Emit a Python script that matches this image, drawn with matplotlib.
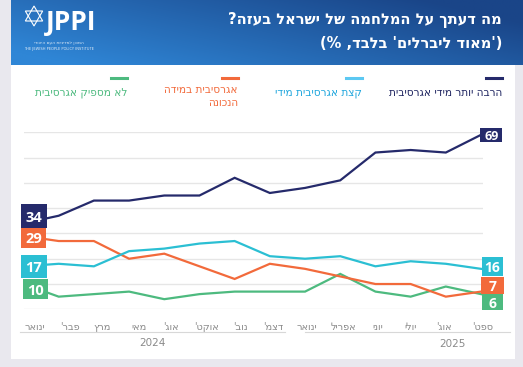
import matplotlib
matplotlib.use('Agg')
import matplotlib.pyplot as plt
import matplotlib.transforms as mtransforms
from matplotlib.patches import Rectangle, Polygon
from matplotlib.lines import Line2D
import numpy as np

# data
months = ['ינואר', "פבר'", 'מרץ', 'מאי', "אוג'", "אוקט'", "נוב'", "דצמ'",
          'ינואר', 'אפריל', 'יוני', 'יולי', "אוג'", "ספט'"]
much_too_aggressive = [34, 37, 43, 43, 45, 45, 52, 46, 48, 51, 62, 63, 62, 69]
right_amount = [29, 27, 27, 20, 22, 17, 12, 18, 16, 13, 10, 10, 5, 7]
bit_too_aggressive = [17, 18, 17, 23, 24, 26, 27, 21, 20, 21, 17, 19, 18, 16]
not_aggressive_enough = [10, 5, 6, 7, 4, 6, 7, 7, 7, 14, 7, 5, 9, 6]

NAVY = '#252a6b'
ORANGE = '#f26a3b'
CYAN = '#2bbfd3'
GREEN = '#4dba7f'

W, H = 523, 367


def rtl(s):
    # matplotlib has no bidi support: give it the visual order
    mirror = {'(': ')', ')': '('}
    return ''.join(mirror.get(c, c) for c in reversed(s))


def fx(x):
    return x / W


def fy(y):
    return 1 - y / H


HEB = ['DejaVu Sans']

fig = plt.figure(figsize=(W / 100, H / 100), dpi=100)
fig.patch.set_facecolor('#e9e8ee')

# white card
fig.add_artist(Rectangle((fx(11), fy(359)), (515 - 11) / W, (359 - 65) / H,
                         transform=fig.transFigure, fc='white', ec='none', zorder=-1))

# header banner with gradient (lighter bottom left, darker top right)
axb = fig.add_axes([fx(11), fy(65), (W - 11) / W, 65 / H])
gx, gy = np.meshgrid(np.linspace(0, 1, 300), np.linspace(0, 1, 60))
t = np.clip(0.8 * gx + 0.45 * gy - 0.1, 0, 1)[..., None]
light = np.array([0x2f, 0x86, 0xd6]) / 255
dark = np.array([0x1a, 0x45, 0x88]) / 255
axb.imshow(light * (1 - t) + dark * t, aspect='auto', origin='lower', extent=[0, 1, 0, 1])
axb.set_axis_off()

fig.text(fx(502), fy(20), rtl('מה דעתך על המלחמה של ישראל בעזה?'), ha='right', va='center',
         color='white', fontsize=10.5, fontweight='bold', family=HEB)
fig.text(fx(502), fy(43), rtl("('מאוד ליברלים' בלבד, %)"), ha='right', va='center',
         color='white', fontsize=10.5, fontweight='bold', family=HEB)

# logo
cx, cy, r = 34, 16, 10
for sgn in (1, -1):
    pts = [(fx(cx + r * np.sin(a)), fy(cy - sgn * r * np.cos(a)))
           for a in np.radians([0, 120, 240])]
    fig.add_artist(Polygon(pts, closed=True, fill=False, ec='white', lw=0.8,
                           transform=fig.transFigure))
fig.text(fx(46), fy(23), 'JPPI', ha='left', va='center', color='white',
         fontsize=19, fontweight='bold', family=['Open Sans', 'DejaVu Sans'])
fig.text(fx(59), fy(43), rtl('המכון למדיניות העם היהודי'), ha='center', va='center',
         color='white', fontsize=3.2, family=HEB, alpha=0.85)
fig.text(fx(59), fy(49), 'THE JEWISH PEOPLE POLICY INSTITUTE', ha='center', va='center',
         color='white', fontsize=2.6, family=HEB, alpha=0.85)

# legend
legend = [
    ('הרבה יותר מידי אגרסיבית', NAVY, '#1e2460', 502),
    ('קצת אגרסיבית מידי', '#5cc8f2', '#1fa6dd', 362),
    ('אגרסיבית במידה\nהנכונה', ORANGE, ORANGE, 238),
    ('לא מספיק אגרסיבית', GREEN, GREEN, 127),
]
for label, lc, tc, xr in legend:
    fig.add_artist(Line2D([fx(xr - 16), fx(xr)], [fy(78), fy(78)], color=lc, lw=2.2,
                          transform=fig.transFigure))
    lines = label.split('\n')
    for k, ln in enumerate(lines):
        yy = 93 if len(lines) == 1 else 90 + 13 * k
        fig.text(fx(xr), fy(yy), rtl(ln), ha='right', va='center', color=tc,
                 fontsize=7.6, family=HEB)

# main plot
ax = fig.add_axes([fx(23.5), fy(309.3), (483 - 23.5) / W, (309.3 - 132.3) / H])
ax.set_facecolor('none')
x = np.arange(len(months))
for vals, c in [(not_aggressive_enough, GREEN), (right_amount, ORANGE),
                (bit_too_aggressive, CYAN), (much_too_aggressive, NAVY)]:
    ax.plot(x, vals, color=c, lw=1.6, solid_joinstyle='miter', zorder=3)

ax.set_xlim(0, len(months) - 1)
ax.set_ylim(0, 70)
ax.set_yticks(range(0, 71, 10))
ax.yaxis.grid(True, color='#e6e6e6', lw=1)
ax.set_yticklabels([])
ax.tick_params(length=0)
for s in ax.spines.values():
    s.set_visible(False)

# month labels sit a little right of their points in the reference (pixels)
label_shift = [1, 11, 8, 10, 7, 7, 6, 3, 2, 3, 2, 0, -2, 2]
step = (483 - 23.5) / (len(months) - 1)
ax.set_xticks(x + np.array(label_shift) / step)
ax.set_xticklabels([rtl(m) for m in months], fontsize=7, color='#8a8a8a', family=HEB)
ax.tick_params(axis='x', pad=9)
ax.get_xticklabels()[0].set_ha('left')


def tag(i, v, color, dx, dy, w, h, fs):
    tr = fig.dpi_scale_trans + mtransforms.ScaledTranslation(x[i], v, ax.transData)
    ax.add_patch(Rectangle(((dx - w / 2) / 100, (dy - h / 2) / 100), w / 100, h / 100,
                           transform=tr, fc=color, ec='none', clip_on=False, zorder=6))
    ax.text(dx / 100, dy / 100, str(v), transform=tr, ha='center', va='center_baseline',
            color='white', fontsize=fs, fontweight='bold', zorder=7,
            family=['Open Sans', 'DejaVu Sans'])


tag(0, much_too_aggressive[0], NAVY, 10.5, 7.3, 26, 24, 10.5)
tag(0, right_amount[0], ORANGE, 10, -1.7, 25, 20, 10.5)
tag(0, bit_too_aggressive[0], CYAN, 10.5, -0.2, 26, 23, 10.5)
tag(0, not_aggressive_enough[0], GREEN, 12.3, -5, 25, 20, 10.5)
tag(13, much_too_aggressive[-1], NAVY, 10.3, -0.5, 22, 14, 9)
tag(13, bit_too_aggressive[-1], CYAN, 11.5, 2.3, 21, 19, 10)
tag(13, right_amount[-1], ORANGE, 11.8, 6.1, 23, 17, 10)
tag(13, not_aggressive_enough[-1], GREEN, 11.5, -7.9, 21, 16, 10)

# year groups under the axis
fig.add_artist(Line2D([fx(20), fx(285)], [fy(332), fy(332)], color='#d8d8d8', lw=0.8,
                      transform=fig.transFigure))
fig.add_artist(Line2D([fx(305), fx(510)], [fy(332), fy(332)], color='#d8d8d8', lw=0.8,
                      transform=fig.transFigure))
fig.text(fx(152), fy(343), '2024', ha='center', va='center', color='#8a8a8a', fontsize=7.5)
fig.text(fx(452), fy(344), '2025', ha='center', va='center', color='#8a8a8a', fontsize=7.5)

plt.savefig('out.png', dpi=100)
